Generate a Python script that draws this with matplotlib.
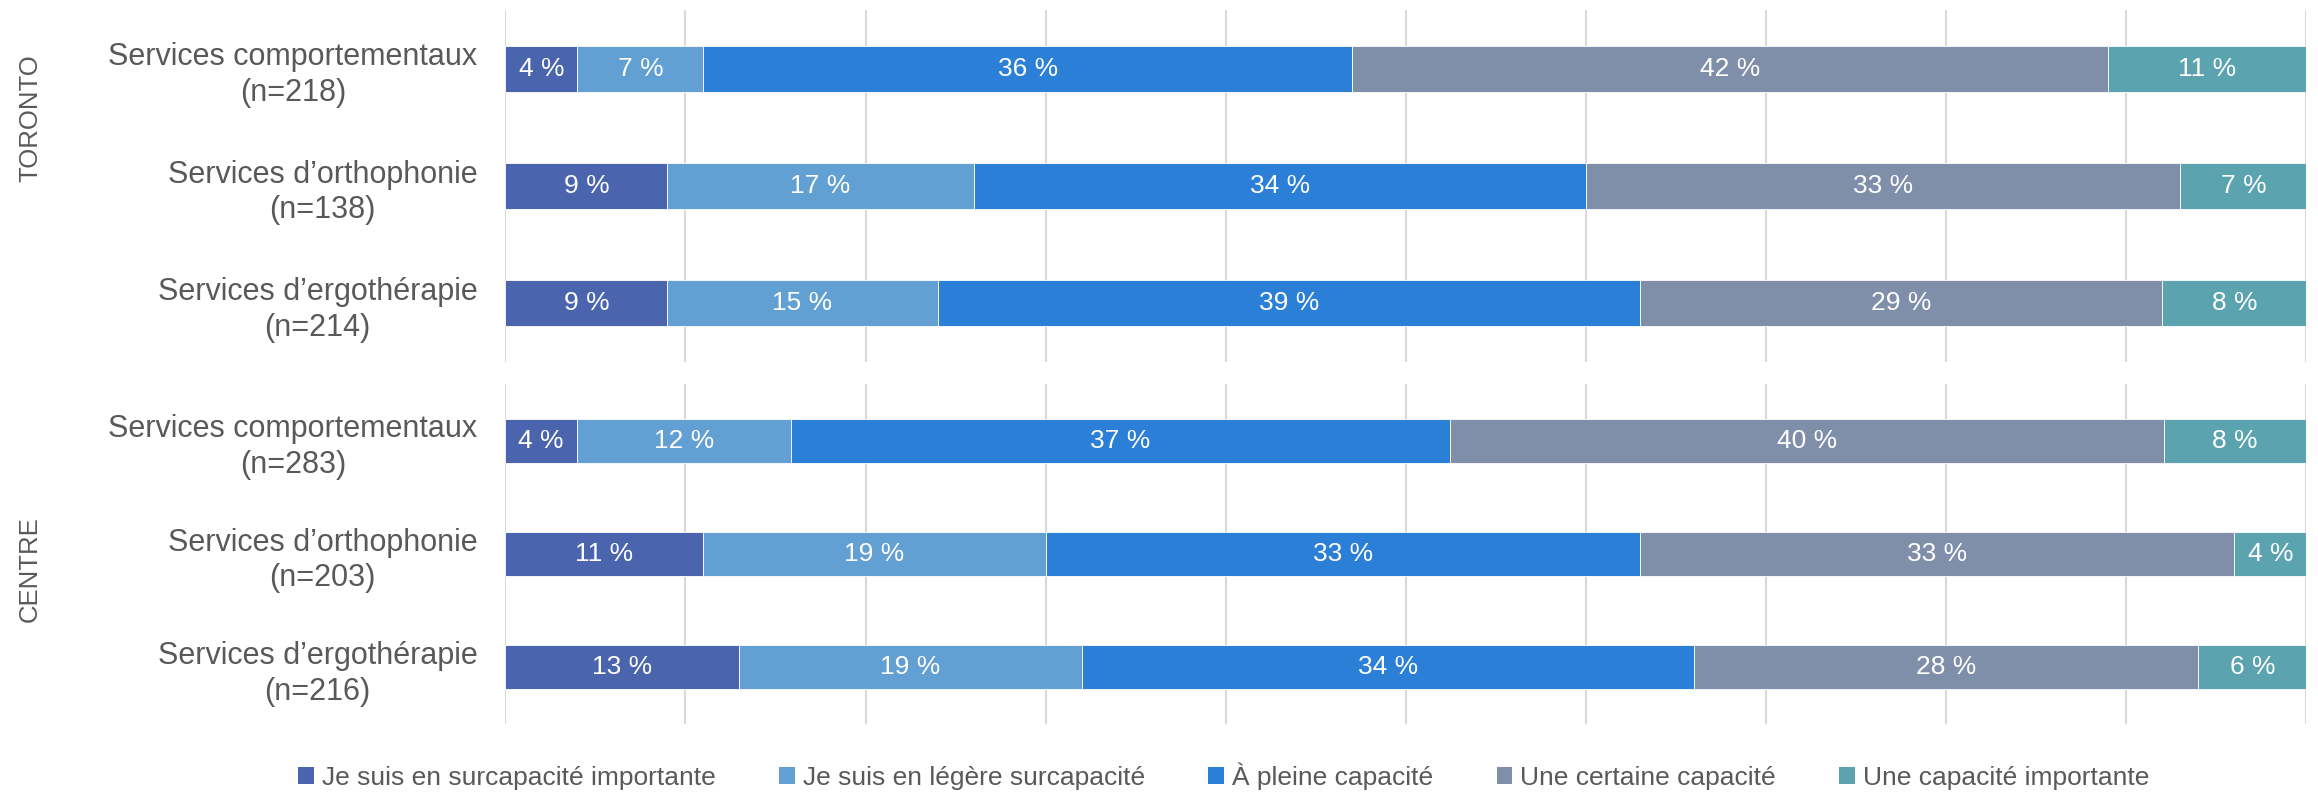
import matplotlib
matplotlib.use("Agg")
import matplotlib.pyplot as plt
from matplotlib.patches import Patch

FONT = "Liberation Sans"

series = ["Je suis en surcapacité importante", "Je suis en légère surcapacité",
          "À pleine capacité", "Une certaine capacité", "Une capacité importante"]
colors = ["#4A65AE", "#629FD2", "#2B7FD7", "#7F8FA9", "#5BA3AF"]

services = ["Services comportementaux", "Services d’orthophonie", "Services d’ergothérapie"]
toronto_n = [218, 138, 214]
centre_n = [283, 203, 216]

toronto = [[4, 7, 36, 42, 11],
           [9, 17, 34, 33, 7],
           [9, 15, 39, 29, 8]]
centre = [[4, 12, 37, 40, 8],
          [11, 19, 33, 33, 4],
          [13, 19, 34, 28, 6]]

fig = plt.figure(figsize=(23.18, 7.92), dpi=100)
ax1 = fig.add_axes([0.218, 0.543, 0.777, 0.444])
ax2 = fig.add_axes([0.218, 0.086, 0.777, 0.429])


def draw(ax, data, ns, group, gy):
    for i, row in enumerate(data):
        total = sum(row)
        left = 0
        for j, v in enumerate(row):
            w = v / total * 100
            ax.barh(i, w, left=left, height=0.39, color=colors[j],
                    edgecolor="white", linewidth=0.6, zorder=3)
            ax.text(left + w / 2, i, f"{v} %", ha="center", va="center",
                    color="white", fontsize=19, family=FONT, zorder=4)
            left += w
    ax.set_xlim(0, 100)
    ax.set_ylim(2.5, -0.5)
    ax.set_xticks(range(0, 101, 10))
    ax.grid(axis="x", color="#D9D9D9", linewidth=1.5, zorder=0)
    ax.tick_params(axis="x", length=0, labelbottom=False)
    ax.tick_params(axis="y", length=0, pad=20)
    ax.set_yticks(range(3))
    ax.set_yticklabels([f"{s}\n(n={n})" for s, n in zip(services, ns)],
                       fontsize=22, family=FONT, color="#595959")
    for lbl in ax.get_yticklabels():
        lbl.set_multialignment("center")
        lbl.set_linespacing(1.25)
    for sp in ax.spines.values():
        sp.set_visible(False)
    fig.text(0.013, gy, group, rotation=90, ha="center", va="center",
             fontsize=18.5, family=FONT, color="#595959")


draw(ax1, toronto, toronto_n, "TORONTO", 0.851)
draw(ax2, centre, centre_n, "CENTRE", 0.282)

handles = [Patch(facecolor=c) for c in colors]
fig.legend(handles, series, loc="center", bbox_to_anchor=(0.528, 0.02), ncol=5,
           frameon=False, handlelength=0.6, handleheight=0.6, handletextpad=0.3,
           columnspacing=2.4, prop={"family": FONT, "size": 19},
           labelcolor="#595959")

fig.savefig("out.png", dpi=100)
